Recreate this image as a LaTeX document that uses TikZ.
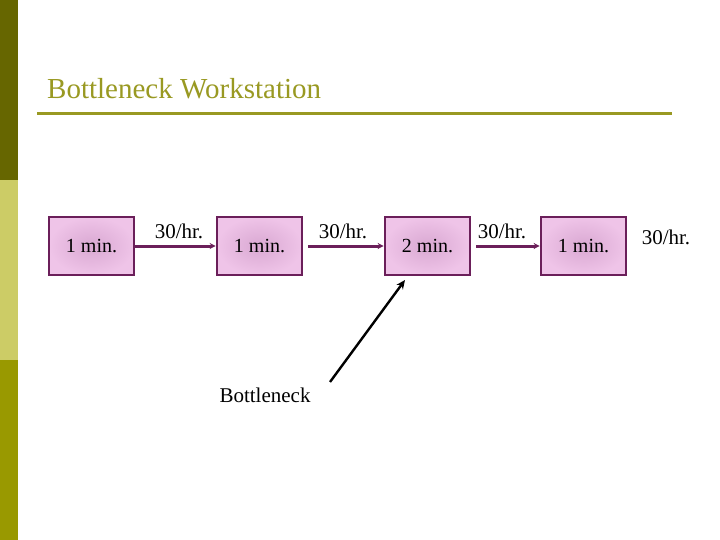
\documentclass[tikz,border=0pt]{standalone}
\usepackage{fontspec}
\setmainfont{Liberation Serif}
\usetikzlibrary{arrows.meta}
\definecolor{olivedark}{HTML}{666600}
\definecolor{olivelight}{HTML}{CCCC66}
\definecolor{olivemid}{HTML}{999900}
\definecolor{titlec}{HTML}{999922}
\definecolor{boxedge}{HTML}{6B1F5A}
\definecolor{boxin}{HTML}{D9A8D2}
\definecolor{boxout}{HTML}{EFC4E8}
\tikzset{
 stbox/.style={draw=boxedge, line width=2.6pt, minimum width=85pt, minimum height=58pt, inner color=boxin, outer color=boxout, font=\fontsize{20}{24}\selectfont},
 flow/.style={draw=boxedge, line width=3pt, -{Stealth[length=6pt,width=6pt]}},
 rate/.style={font=\fontsize{21}{24}\selectfont, anchor=base},
}
\begin{document}
\begin{tikzpicture}[x=1pt,y=-1pt]
\useasboundingbox (0,0) rectangle (720,540);
\fill[white] (0,0) rectangle (720,540);
\fill[olivedark] (0,0) rectangle (18,180);
\fill[olivelight] (0,180) rectangle (18,360);
\fill[olivemid] (0,360) rectangle (18,540);
\node[anchor=base west, text=titlec, font=\fontsize{29}{32}\selectfont, inner sep=0] (title) at (47,99) {Bottleneck Workstation};
\draw[titlec, line width=3pt] (37,114) -- (672,114);
\node[stbox] (b1) at (91.5,246) {1 min.};
\node[stbox] (b2) at (259.5,246) {1 min.};
\node[stbox] (b3) at (427.5,246) {2 min.};
\node[stbox] (b4) at (583.5,246) {1 min.};
\draw[flow] (b1.east) -- (b2.west);
\draw[flow] ([xshift=5pt]b2.east) -- (b3.west);
\draw[flow] ([xshift=5pt]b3.east) -- (b4.west);
\node[rate] (r1) at (179,238) {30/hr.};
\node[rate] (r2) at (343,238) {30/hr.};
\node[rate] (r3) at (502,238) {30/hr.};
\node[rate] (r4) at (666,244) {30/hr.};
\node[font=\fontsize{21}{24}\selectfont] (bn) at (265,395) {Bottleneck};
\coordinate (bs) at (330,382);
\coordinate (be) at (405,280);
\draw[black, line width=2.4pt, -{Stealth[length=9pt,width=8pt]}] (bs) -- (be);
\end{tikzpicture}
\end{document}
